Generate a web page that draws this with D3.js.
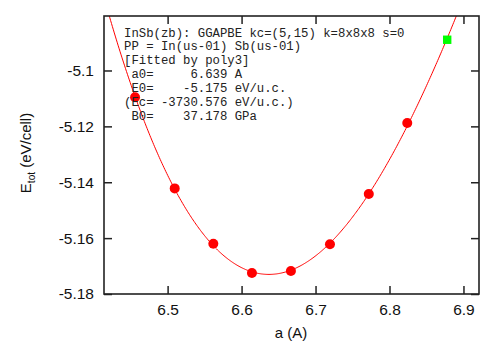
<!DOCTYPE html>
<html><head><meta charset="utf-8">
<script src="https://cdn.jsdelivr.net/npm/d3@7"></script>
<style>body{margin:0;background:#fff}svg{display:block}</style>
</head><body>
<script>
// Data
const latticeA = [6.456, 6.5096, 6.5618, 6.614, 6.6667, 6.7195, 6.772, 6.824];
const energyE = [-5.1096, -5.1422, -5.162, -5.1725, -5.1718, -5.1622, -5.1442, -5.1188];
const extraA = [6.878];
const extraE = [-5.089];
const xTicks = [6.5, 6.6, 6.7, 6.8, 6.9];
const xTickLabels = ["6.5", "6.6", "6.7", "6.8", "6.9"];
const yTicks = [-5.18, -5.16, -5.14, -5.12, -5.1];
const yTickLabels = ["-5.18", "-5.16", "-5.14", "-5.12", "-5.1"];
const infoLines = [
  "InSb(zb): GGAPBE kc=(5,15) k=8x8x8 s=0",
  "PP = In(us-01) Sb(us-01)",
  "[Fitted by poly3]",
  " a0=     6.639 A",
  " E0=    -5.175 eV/u.c.",
  "(Ec= -3730.576 eV/u.c.)",
  " B0=    37.178 GPa"
];

const W = 500, H = 359;
const L = 104, R = 479, T = 16, B = 294;
const x = d3.scaleLinear().domain([6.414, 6.921]).range([L, R]);
const y = d3.scaleLinear().domain([-5.18, -5.0805]).range([B, T]);

const svg = d3.select("body").append("svg").attr("width", W).attr("height", H);

// cubic least-squares fit of all points
const fa = latticeA.concat(extraA), fe = energyE.concat(extraE);
const xm = d3.mean(fa);
function fitPoly(xs, ys, deg) {
  const n = deg + 1;
  const M = Array.from({length: n}, () => new Array(n + 1).fill(0));
  xs.forEach((xv, k) => {
    const t = xv - xm;
    for (let i = 0; i < n; i++) {
      for (let j = 0; j < n; j++) M[i][j] += Math.pow(t, i + j);
      M[i][n] += ys[k] * Math.pow(t, i);
    }
  });
  for (let c = 0; c < n; c++) {
    let p = c;
    for (let r = c + 1; r < n; r++) if (Math.abs(M[r][c]) > Math.abs(M[p][c])) p = r;
    [M[c], M[p]] = [M[p], M[c]];
    for (let r = 0; r < n; r++) {
      if (r === c) continue;
      const f = M[r][c] / M[c][c];
      for (let j = c; j <= n; j++) M[r][j] -= f * M[c][j];
    }
  }
  return M.map((row, i) => row[n] / row[i]);
}
const coef = fitPoly(fa, fe, 3);
const poly = a => coef.reduce((s, c, i) => s + c * Math.pow(a - xm, i), 0);

svg.append("defs").append("clipPath").attr("id", "clip")
  .append("rect").attr("x", L).attr("y", T).attr("width", R - L).attr("height", B - T);

const g = svg.append("g").attr("clip-path", "url(#clip)");
const dom = x.domain();
const curve = d3.range(0, 401).map(i => dom[0] + (dom[1] - dom[0]) * i / 400).map(a => [a, poly(a)]);
g.append("path").datum(curve)
  .attr("fill", "none").attr("stroke", "#ff0000").attr("stroke-width", 1)
  .attr("d", d3.line().x(d => x(d[0])).y(d => y(d[1])));

g.selectAll("circle.pt").data(latticeA.map((a, i) => [a, energyE[i]])).enter()
  .append("circle").attr("class", "pt")
  .attr("cx", d => x(d[0])).attr("cy", d => y(d[1])).attr("r", 5)
  .attr("fill", "#ff0000");

g.selectAll("rect.sq").data(extraA.map((a, i) => [a, extraE[i]])).enter()
  .append("rect").attr("class", "sq")
  .attr("x", d => x(d[0]) - 4.2).attr("y", d => y(d[1]) - 4.2)
  .attr("width", 8.4).attr("height", 8.4).attr("fill", "#00ff00");

// axes (ticks inward on all four sides)
const tickFont = "Liberation Sans, Arial, sans-serif";
const axB = d3.axisBottom(x).tickValues(xTicks).tickSize(-8).tickPadding(10)
  .tickFormat((d, i) => xTickLabels[i]);
const axT = d3.axisTop(x).tickValues(xTicks).tickSize(-8).tickFormat("");
const axLft = d3.axisLeft(y).tickValues(yTicks).tickSize(-8).tickPadding(10)
  .tickFormat((d, i) => yTickLabels[i]);
const axRt = d3.axisRight(y).tickValues(yTicks).tickSize(-8).tickFormat("");

function style(sel) {
  sel.select(".domain").remove();
  sel.selectAll("line").attr("stroke", "#222").attr("stroke-width", 1.5);
  sel.selectAll("text").attr("font-family", tickFont).attr("font-size", 15.5).attr("fill", "#111");
}
svg.append("g").attr("transform", `translate(0,${B})`).call(axB).call(style);
svg.append("g").attr("transform", `translate(0,${T})`).call(axT).call(style);
svg.append("g").attr("transform", `translate(${L},0)`).call(axLft).call(style);
svg.append("g").attr("transform", `translate(${R},0)`).call(axRt).call(style);

svg.append("rect").attr("x", L).attr("y", T).attr("width", R - L).attr("height", B - T)
  .attr("fill", "none").attr("stroke", "#222").attr("stroke-width", 1.6);

// axis titles
svg.append("text").attr("x", (L + R) / 2 - 0.5).attr("y", 338)
  .attr("text-anchor", "middle").attr("font-family", tickFont).attr("font-size", 15)
  .attr("fill", "#111").text("a (A)");

const yl = svg.append("text").attr("transform", "translate(31,153) rotate(-90)")
  .attr("text-anchor", "middle").attr("font-family", tickFont).attr("font-size", 15).attr("fill", "#111");
yl.append("tspan").text("E");
yl.append("tspan").attr("font-size", 10).attr("dy", 4).text("tot");
yl.append("tspan").attr("dy", -4).text(" (eV/cell)");

// info text
svg.append("g").selectAll("text").data(infoLines).enter().append("text")
  .attr("x", 124).attr("y", (d, i) => 36.5 + i * 13.95)
  .attr("font-family", "Liberation Mono, Courier New, monospace").attr("font-size", 12.3)
  .attr("fill", "#222").attr("xml:space", "preserve").style("white-space", "pre")
  .text(d => d);
</script>
</body></html>
